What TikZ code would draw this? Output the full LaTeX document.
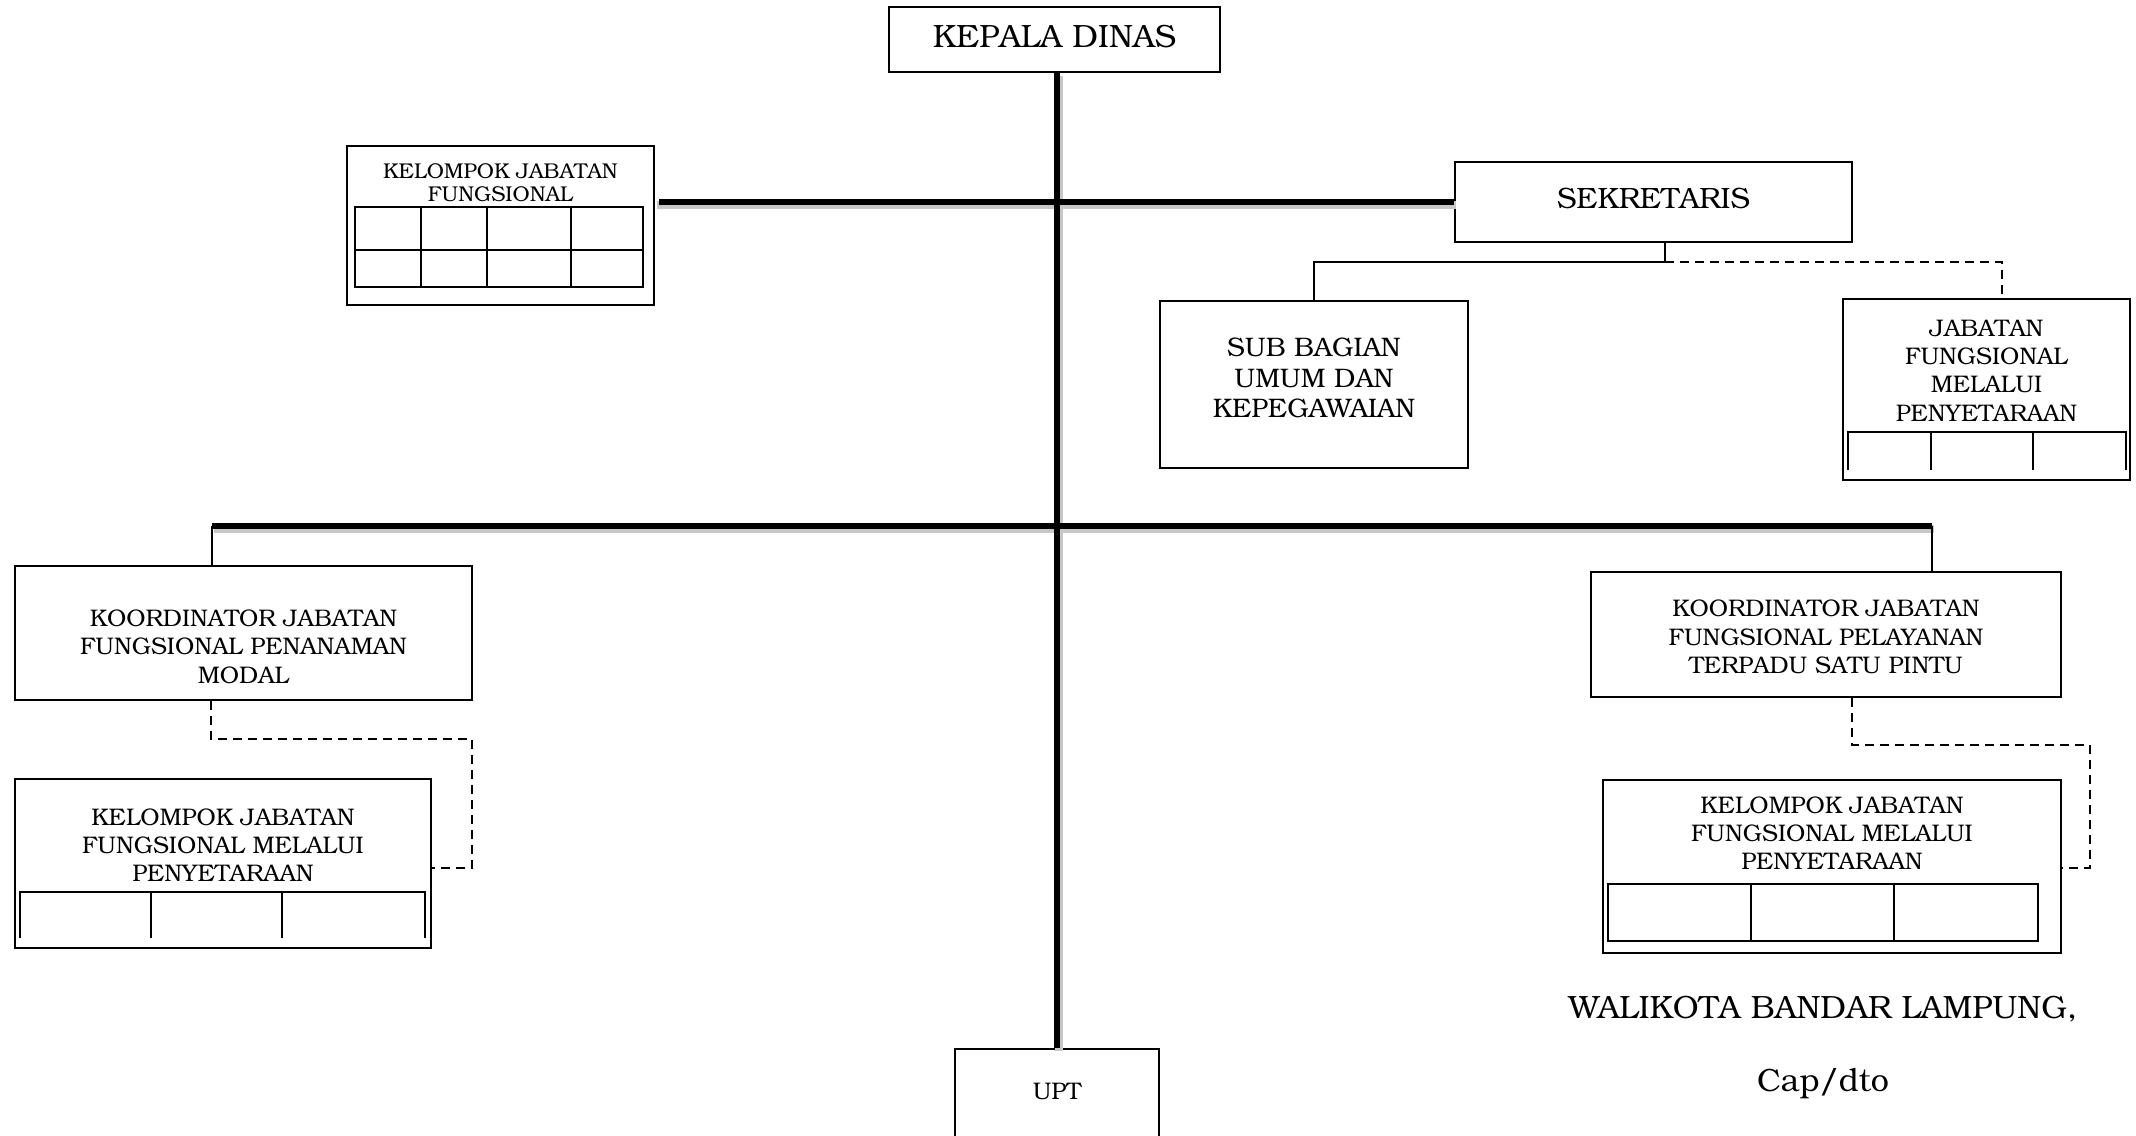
\documentclass[tikz,border=0pt]{standalone}
\usepackage[T1]{fontenc}
\usepackage{bookman}
\usetikzlibrary{positioning}
\newcommand{\fbig}{\fontsize{16.1}{18}\selectfont}
\newcommand{\fsek}{\fontsize{14.7}{17}\selectfont}
\newcommand{\fsub}{\fontsize{13.4}{15.3}\selectfont}
\newcommand{\fmid}{\fontsize{12}{14.2}\selectfont}
\newcommand{\fsmall}{\fontsize{10.7}{11.5}\selectfont}
\tikzstyle{unit} = [rectangle, draw=black, line width=1pt, align=center, inner sep=0pt, font=\fmid]
\tikzstyle{caption} = [align=center, inner sep=0pt, font=\fmid]
\tikzstyle{cell} = [line width=1pt]
\tikzstyle{trunk} = [line width=3pt]
\tikzstyle{glow} = [line width=4pt, black!22, transform canvas={xshift=0.8pt,yshift=-1.6pt}]
\tikzstyle{link} = [line width=1pt]
\tikzstyle{dashlink} = [line width=1pt, dash pattern=on 4.5pt off 3pt]

\begin{document}
\begin{tikzpicture}[node distance=100pt]
\useasboundingbox (-527.25pt,-547.75pt) rectangle (540.75pt,19.75pt);

		\node (kep) [unit, font=\fbig, minimum width=165.5pt, minimum height=32.5pt, text height=11pt, text depth=2.8pt] {KEPALA DINAS};
		\node (sek) [unit, font=\fsek, right of=kep, xshift=199.5pt, yshift=-81.25pt, minimum width=198.5pt, minimum height=40pt, text height=10pt, text depth=4pt] {SEKRETARIS};
		\node (kjf) [unit, left of=kep, xshift=-177pt, yshift=-93pt, minimum width=153.5pt, minimum height=79.5pt] {};
		\node (kjft) [caption, font=\fsmall, below=9pt of kjf.north] {KELOMPOK JABATAN\\FUNGSIONAL};
		\node (sub) [unit, font=\fsub, below of=sek, xshift=-169.75pt, yshift=8.75pt, minimum width=154pt, minimum height=83.5pt] {SUB BAGIAN\\UMUM DAN\\KEPEGAWAIAN\rule[-6.8pt]{0pt}{1pt}};
		\node (jab) [unit, below of=sek, xshift=166.5pt, yshift=6.25pt, minimum width=143.5pt, minimum height=90.5pt] {};
		\node (jabt) [caption, below=10.5pt of jab.north] {JABATAN\\FUNGSIONAL\\MELALUI\\PENYETARAAN};
		\node (kpm) [unit, below of=kjf, xshift=-128.5pt, yshift=-103.75pt, minimum width=228.5pt, minimum height=67pt] {\rule{0pt}{22pt}KOORDINATOR JABATAN\\FUNGSIONAL PENANAMAN\\MODAL};
		\node (kl) [unit, below of=kpm, xshift=-10.25pt, yshift=-15.25pt, minimum width=208pt, minimum height=84.5pt] {};
		\node (klt) [caption, below=15pt of kl.north] {KELOMPOK JABATAN\\FUNGSIONAL MELALUI\\PENYETARAAN};
		\node (kpt) [unit, below of=jab, xshift=-80.25pt, yshift=-22.5pt, minimum width=235pt, minimum height=62.5pt] {\rule{0pt}{11pt}KOORDINATOR JABATAN\\FUNGSIONAL PELAYANAN\\TERPADU SATU PINTU};
		\node (kr) [unit, below of=kpt, xshift=3pt, yshift=-16pt, minimum width=229pt, minimum height=86.5pt] {};
		\node (krt) [caption, below=8.5pt of kr.north] {KELOMPOK JABATAN\\FUNGSIONAL MELALUI\\PENYETARAAN};
		\node (upt) [unit, below of=kep, xshift=1.25pt, yshift=-429.75pt, minimum width=102pt, minimum height=50pt, text height=8pt, text depth=8pt] {UPT};
		\node (wali) [caption, font=\fbig, below of=kr, xshift=-4.5pt, yshift=28.75pt] {WALIKOTA BANDAR LAMPUNG,};
		\node (cap) [caption, font=\fbig, below of=wali, yshift=62.5pt] {Cap/dto};

		% tables inside the boxes
		\begin{scope}[shift={(kjf.south west)}, x=1pt, y=1pt]
		\draw[cell] (4.5,9.5) rectangle (148.5,49.5);
		\draw[cell] (4.5,28) -- (148.5,28);
		\foreach \col in {37.5,70.5,112.5} \draw[cell] (\col,9.5) -- (\col,49.5);
		\end{scope}
		\begin{scope}[shift={(jab.south west)}, x=1pt, y=1pt]
		\draw[cell] (3,5.5) -- (3,24.5) -- (142,24.5) -- (142,5.5);
		\foreach \col in {44.5,95.5} \draw[cell] (\col,5.5) -- (\col,24.5);
		\end{scope}
		\begin{scope}[shift={(kl.south west)}, x=1pt, y=1pt]
		\draw[cell] (3,5.5) -- (3,28.5) -- (205.5,28.5) -- (205.5,5.5);
		\foreach \col in {68.5,134} \draw[cell] (\col,5.5) -- (\col,28.5);
		\end{scope}
		\begin{scope}[shift={(kr.south west)}, x=1pt, y=1pt]
		\draw[cell] (3,6.5) rectangle (218,35);
		\foreach \col in {74.5,146} \draw[cell] (\col,6.5) -- (\col,35);
		\end{scope}

		% main lines
		\coordinate (busL) at ([xshift=-15.75pt,yshift=19.5pt]kpm.north);
		\coordinate (dropR) at ([xshift=53pt]kpt.north);
		\draw[glow] (kjf.east |- sek.west) -- (sek.west);
		\draw[glow] (busL) -- (busL -| dropR);
		\draw[glow] (upt.north |- kep.south) -- (upt.north);
		\draw[trunk, shorten <=2pt] (kjf.east |- sek.west) -- (sek.west);
		\draw[trunk] (busL) -- (busL -| dropR);
		\draw[trunk] (upt.north |- kep.south) -- (upt.north);
		\draw[link] (busL) -- (busL |- kpm.north);
		\draw[link] (busL -| dropR) -- (dropR);

		% sekretaris
		\coordinate (sekbus) at ([xshift=5.75pt,yshift=-9.5pt]sek.south);
		\draw[link] ([xshift=5.75pt]sek.south) -- (sekbus) -| (sub.north);
		\draw[dashlink] (sekbus) -| ([xshift=7.75pt]jab.north);

		% koordinator to kelompok
		\draw[dashlink] ([xshift=-16.25pt]kpm.south) -- ++(0,-19pt) -| ([xshift=20pt,yshift=-2.25pt]kl.east) -- ([yshift=-2.25pt]kl.east);
		\draw[dashlink] ([xshift=13pt]kpt.south) -- ++(0,-23.5pt) -| ([xshift=14pt,yshift=-0.75pt]kr.east) -- ([yshift=-0.75pt]kr.east);
	  \end{tikzpicture}
\end{document}
